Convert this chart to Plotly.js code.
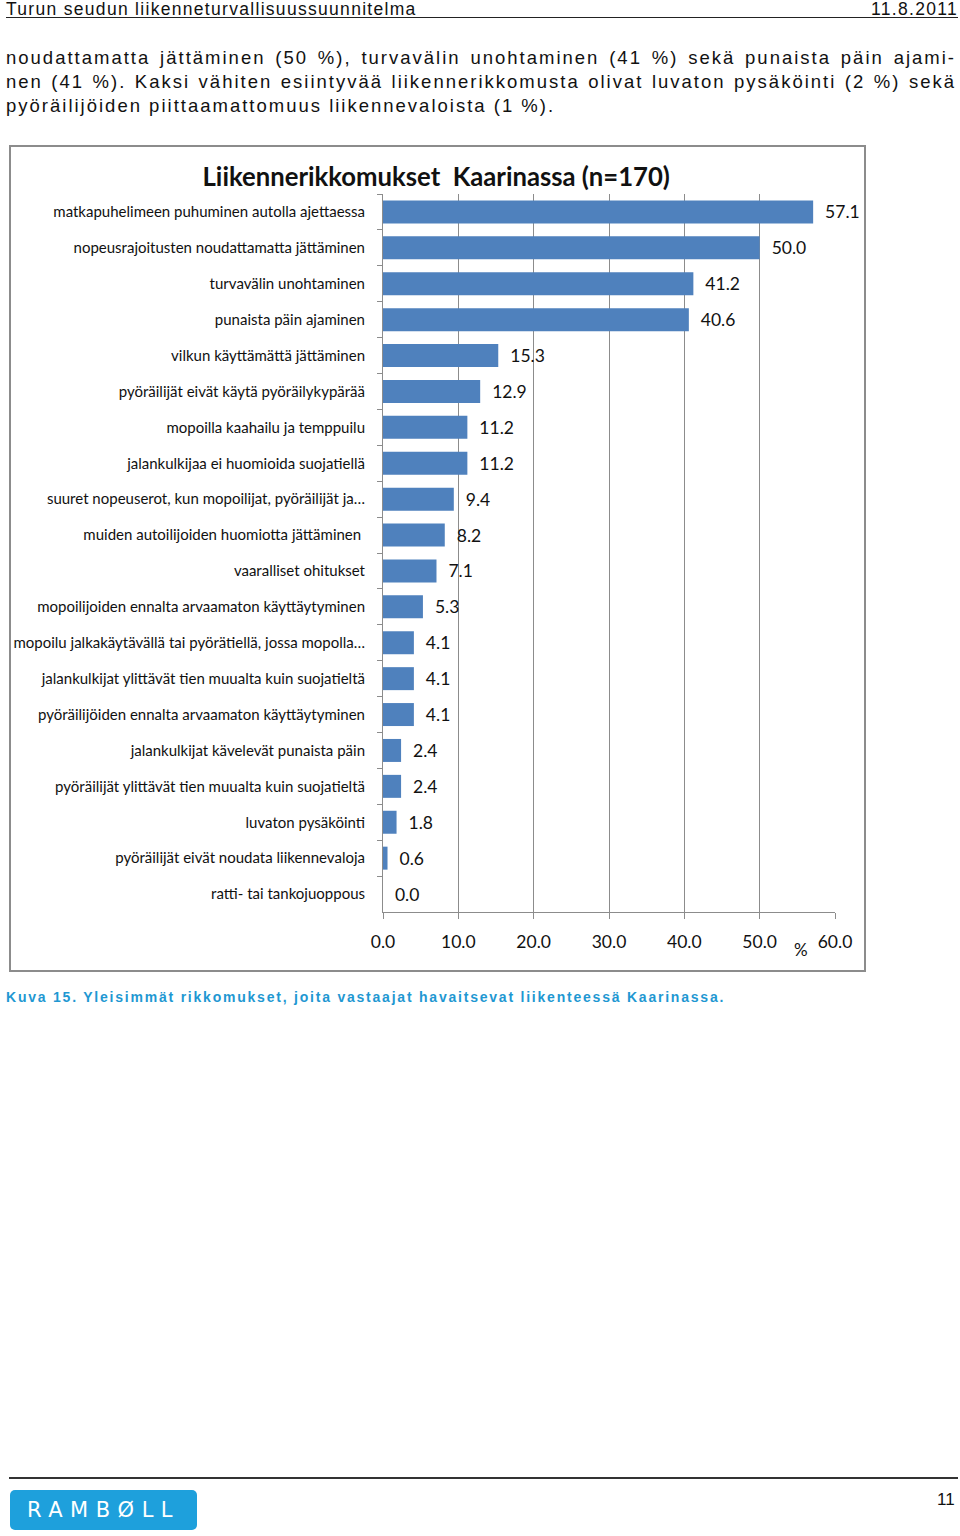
<!DOCTYPE html>
<html>
<head>
<meta charset="utf-8">
<script src="https://cdn.plot.ly/plotly-3.0.1.min.js"></script>
<style>
  html, body { margin:0; padding:0; background:#fff; }
  body { width:960px; height:1536px; position:relative; overflow:hidden; font-family:"Liberation Sans", Arial, sans-serif; color:#111; }
  .hdr { position:absolute; top:-1px; font-size:17.5px; letter-spacing:1.3px; }
  .hline { position:absolute; left:6px; width:952px; top:17px; height:1px; background:#222; }
  .para { position:absolute; left:6px; width:950px; font-size:18.5px; letter-spacing:2.0px; line-height:24px; }
  .para div { text-align:justify; text-align-last:justify; white-space:nowrap; }
  .para div.last { text-align-last:left; }
  #box { position:absolute; left:9px; top:145px; width:853px; height:823px; border:2px solid #8c8c8c; }
  #chart { position:absolute; left:0; top:0; width:853px; height:823px; }
  .cap { position:absolute; left:6px; top:989px; font-size:14px; font-weight:bold; color:#1f98d2; letter-spacing:1.78px; }
  .fline { position:absolute; left:9px; width:949px; top:1477px; height:2px; background:#333; }
  .logo { position:absolute; left:10px; top:1490px; width:187px; height:40px; background:#1ea0dc; border-radius:5px; color:#fff; font-family:"DejaVu Sans", sans-serif; font-size:21px; letter-spacing:7.5px; line-height:40px; text-align:center; }
  .pnum { position:absolute; left:937px; top:1490px; font-size:17px; }
</style>
</head>
<body>
<div class="hdr" style="left:6px;">Turun seudun liikenneturvallisuussuunnitelma</div>
<div class="hdr" style="right:2px;">11.8.2011</div>
<div class="hline"></div>
<div class="para" style="top:46px;">
  <div>noudattamatta jättäminen (50 %), turvavälin unohtaminen (41 %) sekä punaista päin ajami-</div>
  <div>nen (41 %). Kaksi vähiten esiintyvää liikennerikkomusta olivat luvaton pysäköinti (2 %) sekä</div>
  <div class="last">pyöräilijöiden piittaamattomuus liikennevaloista (1 %).</div>
</div>
<div id="box"><div id="chart"></div></div>
<div class="cap">Kuva 15. Yleisimmät rikkomukset, joita vastaajat havaitsevat liikenteessä Kaarinassa.</div>
<div class="fline"></div>
<div class="logo">RAMBØLL</div>
<div class="pnum">11</div>
<script>
const categories = [
  "matkapuhelimeen puhuminen autolla ajettaessa",
  "nopeusrajoitusten noudattamatta jättäminen",
  "turvavälin unohtaminen",
  "punaista päin ajaminen",
  "vilkun käyttämättä jättäminen",
  "pyöräilijät eivät käytä pyöräilykypärää",
  "mopoilla kaahailu ja temppuilu",
  "jalankulkijaa ei huomioida suojatiellä",
  "suuret nopeuserot, kun mopoilijat, pyöräilijät ja…",
  "muiden autoilijoiden huomiotta jättäminen ",
  "vaaralliset ohitukset",
  "mopoilijoiden ennalta arvaamaton käyttäytyminen",
  "mopoilu jalkakäytävällä tai pyörätiellä, jossa mopolla…",
  "jalankulkijat ylittävät tien muualta kuin suojatieltä",
  "pyöräilijöiden ennalta arvaamaton käyttäytyminen",
  "jalankulkijat kävelevät punaista päin",
  "pyöräilijät ylittävät tien muualta kuin suojatieltä",
  "luvaton pysäköinti",
  "pyöräilijät eivät noudata liikennevaloja",
  "ratti- tai tankojuoppous"
];
const values = [57.1, 50.0, 41.2, 40.6, 15.3, 12.9, 11.2, 11.2, 9.4, 8.2, 7.1, 5.3, 4.1, 4.1, 4.1, 2.4, 2.4, 1.8, 0.6, 0.0];
const xTicks = [0, 10, 20, 30, 40, 50, 60];
const chartTitle = "Liikennerikkomukset  Kaarinassa (n=170)";
const unitLabel = "%";

const font = "Lato, 'Open Sans', sans-serif";

const trace = {
  type: "bar",
  orientation: "h",
  y: categories,
  x: values,
  marker: { color: "#4f81bd" },
  texttemplate: "\u00a0\u00a0%{x:.1f}",
  textposition: "outside",
  constraintext: "none",
  cliponaxis: false,
  textfont: { family: font, size: 17.5, color: "#111" },
  hoverinfo: "skip"
};

const layout = {
  width: 853, height: 823,
  margin: { l: 372, r: 29, t: 47, b: 58 },
  paper_bgcolor: "#fff", plot_bgcolor: "#fff",
  showlegend: false,
  bargap: 0.36,
  font: { family: font, color: "#111" },
  title: {
    text: "<b>" + chartTitle + "</b>",
    font: { family: font, size: 25.7, color: "#111" },
    xref: "container", x: 0.4985, xanchor: "center",
    yref: "container", y: 0.964, yanchor: "middle"
  },
  xaxis: {
    range: [0, 60],
    tickvals: xTicks,
    tickformat: ".1f",
    showgrid: true, gridcolor: "#8c8c8c", gridwidth: 1,
    showline: true, linecolor: "#8c8c8c", linewidth: 1,
    ticks: "outside", ticklen: 6, tickcolor: "#8c8c8c",
    ticklabelstandoff: 8,
    tickfont: { family: font, size: 17.5, color: "#111" },
    zeroline: false, fixedrange: true
  },
  yaxis: {
    type: "category",
    categoryorder: "array", categoryarray: categories,
    autorange: "reversed",
    showline: true, linecolor: "#8c8c8c", linewidth: 1,
    ticks: "outside", ticklen: 5, tickcolor: "#8c8c8c",
    tickson: "boundaries",
    ticklabelstandoff: 14,
    tickfont: { family: font, size: 15, color: "#111" },
    showgrid: false, zeroline: false, fixedrange: true
  },
  annotations: [{
    text: unitLabel, xref: "x", yref: "paper", x: 55.5, y: 0, yshift: -50,
    showarrow: false, font: { family: font, size: 17, color: "#111" }
  }]
};

Plotly.newPlot("chart", [trace], layout, { displayModeBar: false, staticPlot: true });
</script>
</body>
</html>
